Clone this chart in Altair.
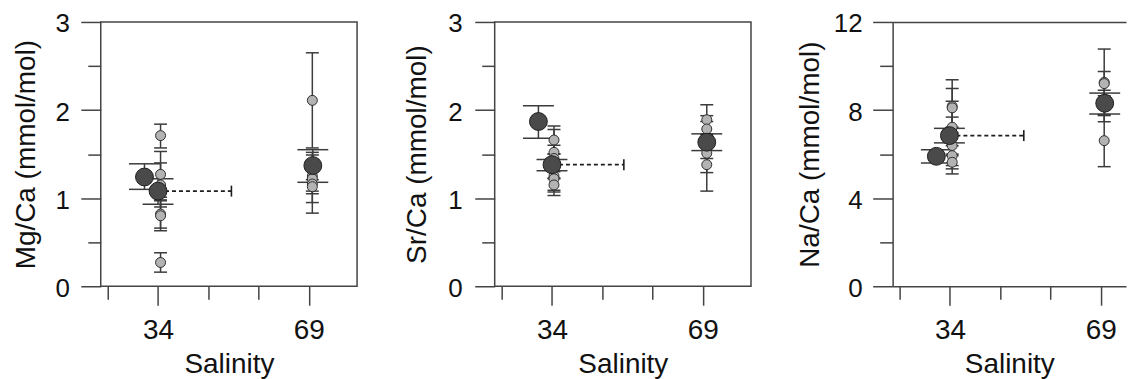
import altair as alt
import pandas as pd

# ---------------- data ----------------
# x positions in "tick units": tick 0..4, labelled ticks 1 -> 34, 4 -> 69
x_tick_major = [1, 4]
x_tick_minor = [0, 2, 3]
x_tick_labels = ["34", "69"]
X_LEFT = -0.14
PX_PER_UNIT = 50.39

# Mg/Ca
mg_mean_x = [0.73, 1.00, 4.08]
mg_mean_y = [1.24, 1.08, 1.37]
mg_mean_lo = [1.10, 0.93, 1.18]
mg_mean_hi = [1.39, 1.22, 1.55]
mg_grey_x = [1.05, 1.05, 1.05, 1.05, 1.05, 1.05, 4.07, 4.07, 4.07, 4.07, 4.07]
mg_grey_y = [1.71, 1.27, 1.15, 0.82, 0.80, 0.27, 2.11, 1.25, 1.22, 1.16, 1.13]
mg_grey_lo = [1.57, 1.01, 0.90, 0.66, 0.63, 0.16, 1.57, 1.08, 0.95, 0.83, 1.05]
mg_grey_hi = [1.84, 1.53, 1.40, 0.98, 0.97, 0.38, 2.65, 1.42, 1.49, 1.52, 1.21]
mg_dash = [1.00, 2.46, 1.08]

# Sr/Ca
sr_mean_x = [0.73, 1.00, 4.08]
sr_mean_y = [1.87, 1.38, 1.635]
sr_mean_lo = [1.68, 1.31, 1.54]
sr_mean_hi = [2.05, 1.44, 1.73]
sr_grey_x = [1.04, 1.04, 1.04, 1.04, 1.04, 1.04, 4.08, 4.08, 4.08, 4.08, 4.08]
sr_grey_y = [1.66, 1.52, 1.45, 1.25, 1.22, 1.15, 1.89, 1.785, 1.66, 1.51, 1.38]
sr_grey_lo = [1.50, 1.23, 1.30, 1.07, 1.03, 1.09, 1.72, 1.64, 1.45, 1.29, 1.08]
sr_grey_hi = [1.82, 1.78, 1.60, 1.50, 1.41, 1.22, 2.06, 1.936, 1.87, 1.73, 1.68]
sr_dash = [1.00, 2.43, 1.38]

# Na/Ca
na_mean_x = [0.73, 0.99, 4.08]
na_mean_y = [5.90, 6.84, 8.31]
na_mean_lo = [5.60, 6.51, 7.82]
na_mean_hi = [6.20, 7.17, 8.77]
na_grey_x = [1.045, 1.045, 1.045, 1.045, 1.045, 1.045, 4.07, 4.07, 4.07, 4.07]
na_grey_y = [8.17, 8.10, 7.22, 6.39, 5.93, 5.63, 9.26, 9.20, 8.20, 6.61]
na_grey_lo = [6.96, 7.22, 6.00, 5.10, 5.48, 5.33, 7.75, 8.65, 7.47, 5.43]
na_grey_hi = [9.375, 8.98, 8.40, 7.68, 6.38, 5.93, 10.77, 9.75, 8.90, 7.79]
na_dash = [0.99, 2.47, 6.84]

LINE = "#3c3c3c"
FRAME = "#444444"
FONT = "Liberation Sans"

label_expr = " : ".join(
    f"datum.value == {v} ? '{t}'" for v, t in zip(x_tick_major, x_tick_labels)
) + " : ''"


def panel(ytitle, ydomain, ymajor, yminor, mx, my, mlo, mhi, gx, gy, glo, ghi, dash,
          label_pad, title_pad, width=257, open_right=False):
    xs = alt.Scale(domain=[X_LEFT, X_LEFT + width / PX_PER_UNIT], nice=False, zero=False)
    ys = alt.Scale(domain=ydomain, nice=False, zero=False)

    means = pd.DataFrame({"x": mx, "y": my, "lo": mlo, "hi": mhi})
    greys = pd.DataFrame({"x": gx, "y": gy, "lo": glo, "hi": ghi})
    bars = pd.concat([greys, means], ignore_index=True)
    grey_caps = pd.DataFrame({"x": gx + gx, "v": glo + ghi})
    mean_caps = pd.DataFrame({"x": mx + mx, "v": mlo + mhi})
    dash_df = pd.DataFrame({"x0": [dash[0]], "x1": [dash[1]], "y": [dash[2]]})

    ax_x_major = alt.Axis(values=x_tick_major, tickSize=19, labelExpr=label_expr,
                          labelPadding=11, labelFontSize=28, title="Salinity",
                          titlePadding=6, orient="bottom", domain=open_right, grid=False)
    ax_x_minor = alt.Axis(values=x_tick_minor, tickSize=13, labels=False,
                          orient="bottom", domain=False, grid=False)
    ax_y_major = alt.Axis(values=ymajor, tickSize=20, format="d", labelPadding=label_pad,
                          labelFontSize=26, labelOffset=2, title=ytitle,
                          titlePadding=title_pad, orient="left", domain=open_right,
                          grid=False)
    ax_y_minor = alt.Axis(values=yminor, tickSize=13, labels=False,
                          orient="left", domain=False, grid=False)
    if open_right:
        top_axis = alt.Axis(orient="top", labels=False, ticks=False, domain=True,
                            grid=False)
        mcaps_x = alt.X("x:Q", scale=xs, axis=top_axis, title=None)
    else:
        mcaps_x = alt.X("x:Q", scale=xs, axis=None)

    rules = alt.Chart(bars).mark_rule(color=LINE, strokeWidth=1.5).encode(
        x=alt.X("x:Q", scale=xs, axis=ax_x_major),
        y=alt.Y("lo:Q", scale=ys, axis=ax_y_major),
        y2="hi:Q",
    )
    gcaps = alt.Chart(grey_caps).mark_tick(
        orient="horizontal", size=13, thickness=1.5, color=LINE, opacity=1
    ).encode(
        x=alt.X("x:Q", scale=xs, axis=ax_x_minor, title=None),
        y=alt.Y("v:Q", scale=ys, axis=ax_y_minor, title=None),
    )
    mcaps = alt.Chart(mean_caps).mark_tick(
        orient="horizontal", size=31, thickness=1.5, color=LINE, opacity=1
    ).encode(
        x=mcaps_x,
        y=alt.Y("v:Q", scale=ys, axis=None),
    )
    dline = alt.Chart(dash_df).mark_rule(
        color="#1e1e1e", strokeWidth=1.8, strokeDash=[4, 3]
    ).encode(
        x=alt.X("x0:Q", scale=xs, axis=None),
        x2="x1:Q",
        y=alt.Y("y:Q", scale=ys, axis=None),
    )
    dcap = alt.Chart(dash_df).mark_tick(
        orient="vertical", size=11, thickness=1.6, color="#1e1e1e", opacity=1
    ).encode(
        x=alt.X("x1:Q", scale=xs, axis=None),
        y=alt.Y("y:Q", scale=ys, axis=None),
    )
    gpts = alt.Chart(greys).mark_circle(
        size=100, color="#b3b3b3", stroke="#2e2e2e", strokeWidth=1, opacity=1
    ).encode(
        x=alt.X("x:Q", scale=xs, axis=None),
        y=alt.Y("y:Q", scale=ys, axis=None),
    )
    mpts = alt.Chart(means).mark_circle(
        size=320, color="#4a4a4a", stroke="#1e1e1e", strokeWidth=1, opacity=1
    ).encode(
        x=alt.X("x:Q", scale=xs, axis=None),
        y=alt.Y("y:Q", scale=ys, axis=None),
    )
    layer = alt.layer(rules, gcaps, mcaps, dline, dcap, gpts, mpts).resolve_axis(
        x="independent", y="independent"
    )
    if open_right:
        return layer.properties(width=width, height=265,
                                view=alt.ViewBackground(stroke="transparent"))
    return layer.properties(width=width, height=265)


p1 = panel("Mg/Ca (mmol/mol)", [0, 3], [0, 1, 2, 3], [0.5, 1.5, 2.5],
           mg_mean_x, mg_mean_y, mg_mean_lo, mg_mean_hi,
           mg_grey_x, mg_grey_y, mg_grey_lo, mg_grey_hi, mg_dash, 11.5, 14.8)
p2 = panel("Sr/Ca (mmol/mol)", [0, 3], [0, 1, 2, 3], [0.5, 1.5, 2.5],
           sr_mean_x, sr_mean_y, sr_mean_lo, sr_mean_hi,
           sr_grey_x, sr_grey_y, sr_grey_lo, sr_grey_hi, sr_dash, 12.7, 16.3)
p3 = panel("Na/Ca (mmol/mol)", [0, 12], [0, 4, 8, 12], [2, 6, 10],
           na_mean_x, na_mean_y, na_mean_lo, na_mean_hi,
           na_grey_x, na_grey_y, na_grey_lo, na_grey_hi, na_dash, 10.5, 8.5,
           width=234, open_right=True)

chart = alt.hconcat(p1, p2, p3, spacing=44).properties(
    padding={"left": 3, "top": 1.5, "right": 0, "bottom": 0},
    background="white",
).configure_view(
    stroke=FRAME, strokeWidth=1.5
).configure_axis(
    labelFont=FONT, titleFont=FONT, labelColor="#111111", titleColor="#111111",
    titleFontSize=28, titleFontWeight="normal", tickColor=FRAME, tickWidth=1.5,
    domainColor=FRAME, domainWidth=1.5,
)

chart.save("out.html", embed_options={"renderer": "svg", "actions": False})
